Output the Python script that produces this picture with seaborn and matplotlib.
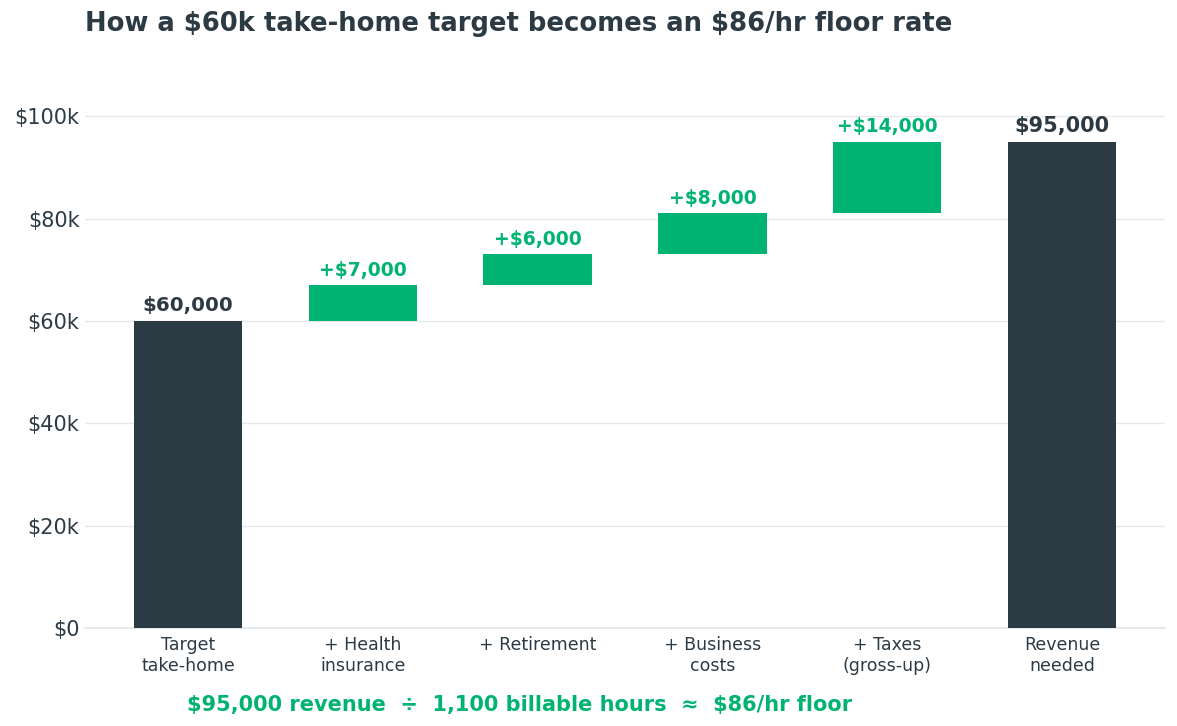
import matplotlib
matplotlib.use("Agg")
import matplotlib.pyplot as plt
import seaborn as sns
import pandas as pd

# waterfall steps
steps = ["Target\ntake-home", "+ Health\ninsurance", "+ Retirement",
         "+ Business\ncosts", "+ Taxes\n(gross-up)", "Revenue\nneeded"]
bases = [0, 60000, 67000, 73000, 81000, 0]
deltas = [60000, 7000, 6000, 8000, 14000, 95000]
kinds = ["total", "add", "add", "add", "add", "total"]
labels = [r"\$60,000", r"+\$7,000", r"+\$6,000", r"+\$8,000", r"+\$14,000", r"\$95,000"]
label_sizes = [14.3, 13.5, 13.5, 13.5, 13.5, 15]
yticks = [0, 20000, 40000, 60000, 80000, 100000]
ytick_labels = [r"\$0", r"\$20k", r"\$40k", r"\$60k", r"\$80k", r"\$100k"]

dark = "#2c3a44"
green = "#00b373"
grid = "#e6e9ec"

df = pd.DataFrame({"step": steps, "base": bases, "delta": deltas, "kind": kinds})

sns.set_style("white")
fig = plt.figure(figsize=(11.77, 7.26), dpi=100)
ax = fig.add_axes([85 / 1177, 98 / 726, 1080 / 1177, 563 / 726])

sns.barplot(data=df, x="step", y="delta", color=dark, width=0.62,
            saturation=1, ax=ax)

for p, b, k in zip(ax.patches, df["base"], df["kind"]):
    p.set_y(b)
    p.set_facecolor(dark if k == "total" else green)
    p.set_edgecolor("none")

for i, row in df.iterrows():
    top = row["base"] + row["delta"]
    c = dark if row["kind"] == "total" else green
    ax.annotate(labels[i], (i, top), xytext=(0, 4), textcoords="offset points",
                ha="center", va="bottom", fontsize=label_sizes[i],
                fontweight="bold", color=c)

ax.set_ylim(0, 110000)
ax.set_xlim(-0.59, 5.59)
ax.set_yticks(yticks)
ax.set_yticklabels(ytick_labels, fontsize=15, color=dark)
ax.grid(axis="y", color=grid, linewidth=1)
ax.axhline(0, color=grid, linewidth=1.5, zorder=0.5, clip_on=False)
ax.set_axisbelow(True)
ax.tick_params(axis="both", length=0)
ax.tick_params(axis="y", pad=4)
ax.tick_params(axis="x", pad=6)
for lab in ax.get_xticklabels():
    lab.set_fontsize(12.5)
    lab.set_color(dark)
ax.set_xlabel("")
ax.set_ylabel("")
for s in ax.spines.values():
    s.set_visible(False)

fig.text(85 / 1177, 1 - 24 / 726, r"How a \$60k take-home target becomes an \$86/hr floor rate",
         fontsize=18.6, fontweight="bold", color=dark, ha="left", va="center")
fig.text(520 / 1177, 1 - 705 / 726,
         "\\$95,000 revenue  \u00f7  1,100 billable hours  \u2248  \\$86/hr floor",
         fontsize=15, fontweight="bold", color=green, ha="center", va="center")

fig.savefig("out.png", dpi=100)
